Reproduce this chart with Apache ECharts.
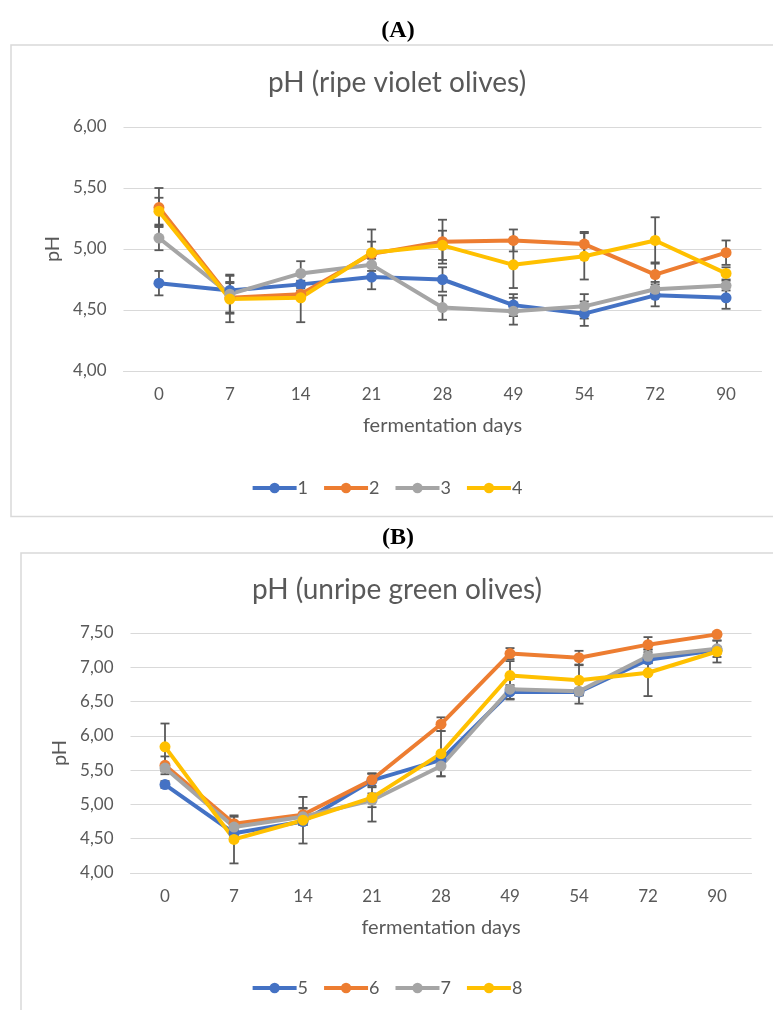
<!DOCTYPE html>
<html>
<head>
<meta charset="utf-8">
<script src="https://cdn.jsdelivr.net/npm/echarts@6/dist/echarts.min.js"></script>
<style>
html,body{margin:0;padding:0;background:#fff;}
#c{width:773px;height:1010px;}
</style>
</head>
<body>
<div id="c"></div>
<script>
// ---- data ----
const days = ['0','7','14','21','28','49','54','72','90'];
const namesA = ['1','2','3','4'];
const namesB = ['5','6','7','8'];
const colors = ['#4472C4','#ED7D31','#A5A5A5','#FFC000'];

// Panel A: pH (ripe violet olives)
const a1 = [4.72, 4.66, 4.71, 4.77, 4.75, 4.54, 4.47, 4.62, 4.60];
const a2 = [5.34, 4.60, 4.63, 4.96, 5.06, 5.07, 5.04, 4.79, 4.97];
const a3 = [5.09, 4.63, 4.80, 4.87, 4.52, 4.49, 4.53, 4.67, 4.70];
const a4 = [5.31, 4.59, 4.60, 4.97, 5.03, 4.87, 4.94, 5.07, 4.80];
const ea1 = [0.10, 0.07, 0.03, 0.10, 0.10, 0.09, 0.10, 0.09, 0.09];
const ea2 = [0.16, 0.12, 0.03, 0.10, 0.18, 0.09, 0.10, 0.10, 0.10];
const ea3 = [0.10, 0.16, 0.10, 0.05, 0.10, 0.11, 0.10, 0.06, 0.04];
const ea4 = [0.11, 0.19, 0.20, 0.19, 0.12, 0.19, 0.19, 0.19, 0.05];

// Panel B: pH (unripe green olives)
const b5 = [5.29, 4.58, 4.75, 5.35, 5.65, 6.64, 6.64, 7.11, 7.25];
const b6 = [5.57, 4.72, 4.85, 5.36, 6.17, 7.20, 7.14, 7.33, 7.48];
const b7 = [5.53, 4.67, 4.82, 5.06, 5.56, 6.68, 6.65, 7.16, 7.27];
const b8 = [5.84, 4.49, 4.77, 5.10, 5.74, 6.88, 6.81, 6.92, 7.23];
const eb5 = [0.05, 0.05, 0.05, 0.10, 0.10, 0.10, 0.05, 0.05, 0.05];
const eb6 = [0.13, 0.10, 0.10, 0.09, 0.10, 0.08, 0.10, 0.11, 0.03];
const eb7 = [0.05, 0.08, 0.12, 0.10, 0.15, 0.15, 0.18, 0.10, 0.12];
const eb8 = [0.34, 0.35, 0.34, 0.35, 0.33, 0.21, 0.22, 0.34, 0.16];

// y-axis ticks
const yTicksA = {min: 4, max: 6, interval: 0.5};
const yTicksB = {min: 4, max: 7.5, interval: 0.5};

// ---- chart ----
const FONT = 'Lato, "Open Sans", sans-serif';
const TXT = '#595959';
const GRID = '#D9D9D9';

function errData(vals, errs) {
  return vals.map((v, i) => [i, +(v - errs[i]).toFixed(3), +(v + errs[i]).toFixed(3)]);
}
function renderErr(params, api) {
  const x = api.value(0);
  const lo = api.coord([x, api.value(1)]);
  const hi = api.coord([x, api.value(2)]);
  const w = 4.5;
  const st = {stroke: '#595959', lineWidth: 1.8, fill: 'none'};
  return {
    type: 'group',
    children: [
      {type: 'line', shape: {x1: lo[0], y1: lo[1], x2: hi[0], y2: hi[1]}, style: st},
      {type: 'line', shape: {x1: lo[0] - w, y1: lo[1], x2: lo[0] + w, y2: lo[1]}, style: st},
      {type: 'line', shape: {x1: hi[0] - w, y1: hi[1], x2: hi[0] + w, y2: hi[1]}, style: st}
    ]
  };
}

const seriesA = [a1, a2, a3, a4];
const errsA = [ea1, ea2, ea3, ea4];
const seriesB = [b5, b6, b7, b8];
const errsB = [eb5, eb6, eb7, eb8];

const series = [];
[0, 1].forEach(p => {
  const vals = p === 0 ? seriesA : seriesB;
  const errs = p === 0 ? errsA : errsB;
  const names = p === 0 ? namesA : namesB;
  vals.forEach((v, k) => {
    series.push({
      type: 'custom', xAxisIndex: p, yAxisIndex: p, z: 1,
      renderItem: renderErr, data: errData(v, errs[k]),
      encode: {x: 0, y: [1, 2]}, silent: true, clip: false
    });
  });
  vals.forEach((v, k) => {
    series.push({
      type: 'line', name: names[k], xAxisIndex: p, yAxisIndex: p, z: 3,
      data: v, symbol: 'circle', symbolSize: 11, showSymbol: true,
      lineStyle: {width: 4, color: colors[k]},
      itemStyle: {color: colors[k]},
      emphasis: {disabled: true}, animation: false
    });
  });
});

function xAxis(idx) {
  return {
    type: 'category', gridIndex: idx, data: days, boundaryGap: true,
    axisLine: {show: true, lineStyle: {color: GRID, width: 1}},
    axisTick: {show: false},
    axisLabel: {color: TXT, fontFamily: FONT, fontSize: 17, margin: 15},
    name: 'fermentation days', nameLocation: 'middle', nameGap: 45,
    nameTextStyle: {color: TXT, fontFamily: FONT, fontSize: 20}
  };
}
function yAxis(idx, t, gap) {
  return {
    type: 'value', gridIndex: idx, min: t.min, max: t.max, interval: t.interval,
    axisLine: {show: false}, axisTick: {show: false},
    splitLine: {lineStyle: {color: GRID, width: 1.2}},
    axisLabel: {color: TXT, fontFamily: FONT, fontSize: 17, margin: 17,
      formatter: v => v.toFixed(2).replace('.', ',')},
    name: 'pH', nameLocation: 'middle', nameGap: gap,
    nameTextStyle: {color: TXT, fontFamily: FONT, fontSize: 20}
  };
}

function legend(names, top) {
  return {
    data: names, left: 'center', top: top, itemWidth: 44, itemHeight: 13, itemGap: 14,
    lineStyle: {width: 4}, itemStyle: {borderWidth: 0},
    textStyle: {color: TXT, fontFamily: FONT, fontSize: 18, padding: [0,0,0,-4]}
  };
}

const option = {
  backgroundColor: '#fff',
  animation: false,
  color: colors,
  grid: [
    {left: 123.5, width: 638, top: 127, height: 244},
    {left: 130.5, width: 621, top: 633, height: 240}
  ],
  xAxis: [xAxis(0), xAxis(1)],
  yAxis: [yAxis(0, yTicksA, 60), yAxis(1, yTicksB, 57)],
  legend: [legend(namesA, 474), legend(namesB, 974)],
  graphic: [
    {type: 'rect', z: -1, shape: {x: 11, y: 45, width: 800, height: 471.5},
     style: {fill: 'none', stroke: GRID, lineWidth: 1.5}},
    {type: 'rect', z: -1, shape: {x: 21, y: 553, width: 800, height: 520},
     style: {fill: 'none', stroke: GRID, lineWidth: 1.5}},
    {type: 'text', x: 398, y: 31, style: {text: '(A)', textAlign: 'center', textVerticalAlign: 'middle',
     font: 'bold 24px "Liberation Serif", "Times New Roman", serif', fill: '#000'}},
    {type: 'text', x: 398, y: 538, style: {text: '(B)', textAlign: 'center', textVerticalAlign: 'middle',
     font: 'bold 24px "Liberation Serif", "Times New Roman", serif', fill: '#000'}},
    {type: 'text', x: 397, y: 83, style: {text: 'pH (ripe violet olives)', textAlign: 'center', textVerticalAlign: 'middle',
     font: '28px ' + FONT, fill: TXT}},
    {type: 'text', x: 397, y: 590, style: {text: 'pH (unripe green olives)', textAlign: 'center', textVerticalAlign: 'middle',
     font: '28px ' + FONT, fill: TXT}}
  ],
  series: series
};

const chart = echarts.init(document.getElementById('c'), null, {renderer: 'canvas'});
chart.setOption(option);
</script>
</body>
</html>
